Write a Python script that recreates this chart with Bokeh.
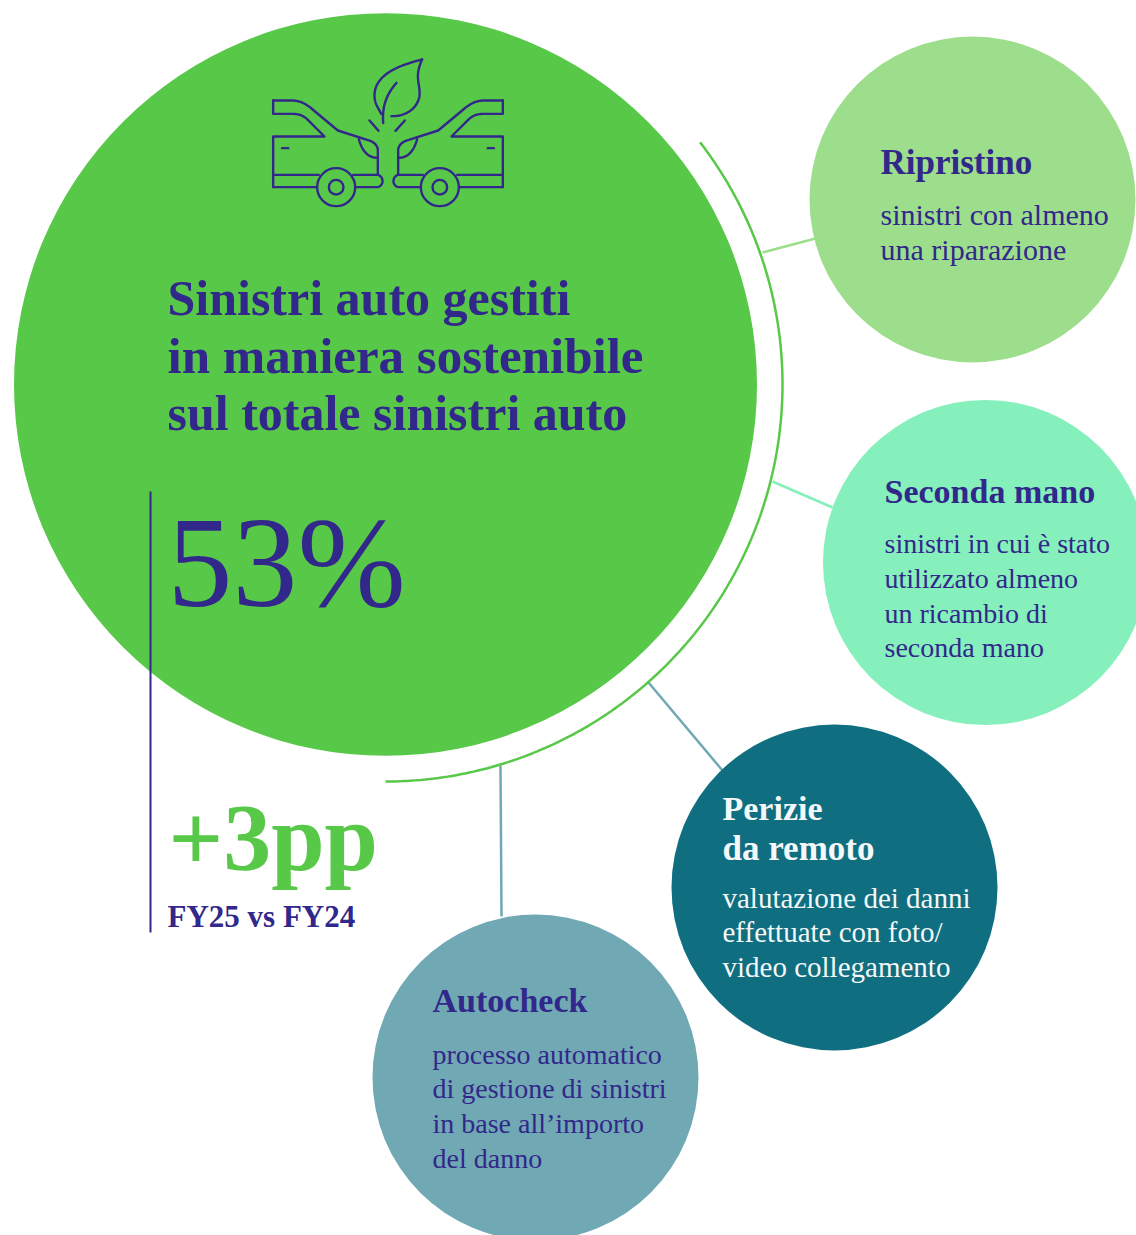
import numpy as np
from bokeh.plotting import figure
from bokeh.models import Range1d
from bokeh.core.properties import value
from bokeh.embed import file_html
from bokeh.resources import INLINE

title_lines = ["Sinistri auto gestiti", "in maniera sostenibile", "sul totale sinistri auto"]
kpi = "53%"
delta = "+3pp"
delta_note = "FY25 vs FY24"
names = ["Ripristino", "Seconda mano", "Perizie", "da remoto", "Autocheck"]
bodies = [
    ["sinistri con almeno", "una riparazione"],
    ["sinistri in cui è stato", "utilizzato almeno", "un ricambio di", "seconda mano"],
    ["valutazione dei danni", "effettuate con foto/", "video collegamento"],
    ["processo automatico", "di gestione di sinistri", "in base all’importo", "del danno"],
]

NAVY = "#32278A"; GREEN = "#58C848"; LG = "#9DDE8D"; MINT = "#85F0BC"; TEAL = "#0F6E80"; SLATE = "#70A9B3"; WHITE = "#F4F8F8"
FONT = value("Liberation Serif")

p = figure(width=1136, height=1235, x_range=Range1d(0, 1136), y_range=Range1d(1235, 0),
           output_backend="svg", toolbar_location=None, min_border=0)
p.axis.visible = False
p.grid.visible = False
p.outline_line_color = None
p.background_fill_color = "white"

# connectors
for xs, ys, c in [([762, 815], [252, 238], LG), ([772, 832], [481, 507], MINT),
                  ([648, 722], [682, 770], SLATE), ([500, 501], [765, 916], SLATE)]:
    p.line(xs, ys, line_color=c, line_width=2.5)

# circles
p.circle(x=[385], y=[384], radius=371.5, fill_color=GREEN, line_color=None)
for x, y, r, c in [(972, 199, 163, LG), (985, 562, 162.5, MINT), (834, 887, 163, TEAL), (535, 1077, 163, SLATE)]:
    p.circle(x=[x], y=[y], radius=r, fill_color=c, line_color=None)

# outer arc
t = np.radians(np.linspace(-37.6, 90, 200))
p.line(385 + 397 * np.cos(t), 384 + 397 * np.sin(t), line_color=GREEN, line_width=2.5)

# vertical rule
p.line([150, 150], [491, 932], line_color=NAVY, line_width=2)

# ---------- icon ----------
def cubic(a, b, c, d, n=24):
    s = np.linspace(0, 1, n)[:, None]
    a, b, c, d = map(np.array, (a, b, c, d))
    return (1-s)**3*a + 3*(1-s)**2*s*b + 3*(1-s)*s**2*c + s**3*d

def path(*segs):
    return np.vstack([np.atleast_2d(np.array(s, dtype=float)) for s in segs])

car_paths = [
    path([(68, 180), (125, 180)], cubic((125, 180), (150, 180), (170, 192), (190, 210)),
         [(262, 270), (350, 298)], cubic((350, 298), (370, 303), (382, 315), (382, 330)), [(382, 403)]),
    path([(68, 180), (68, 220), (125, 220)], cubic((125, 220), (145, 220), (160, 226), (172, 238)),
         [(222, 288), (68, 288), (68, 440), (200, 440)]),
    path([(68, 403), (205, 403)]),
    path([(308, 403), (378, 403)], cubic((378, 403), (402, 403), (402, 440), (378, 440)), [(312, 440)]),
    path([(95, 323), (113, 323)]),
    path(cubic((325, 295), (335, 335), (355, 352), (382, 352))),
]
leaf_paths = [
    path(cubic((515, 57), (440, 75), (372, 105), (372, 165)), cubic((372, 165), (372, 190), (385, 205), (392, 220))),
    path(cubic((515, 57), (490, 110), (510, 130), (507, 165)), cubic((507, 165), (503, 200), (470, 228), (423, 227))),
    path(cubic((398, 248), (395, 200), (405, 165), (438, 127))),
    path([(357, 240), (384, 271)]),
    path([(463, 240), (435, 271)]),
]
def sx(a): return 250 + a / 3
def sy(a): return 40 + a / 3
xs, ys = [], []
for q in car_paths:
    xs.append(sx(q[:, 0])); ys.append(sy(q[:, 1]))
    xs.append(sx(825 - q[:, 0])); ys.append(sy(q[:, 1]))
for q in leaf_paths:
    xs.append(sx(q[:, 0])); ys.append(sy(q[:, 1]))
p.multi_line(xs, ys, line_color=NAVY, line_width=2.4, line_join="round", line_cap="round")
for wx in (257, 825 - 257):
    p.circle(x=[sx(wx)], y=[sy(440)], radius=19, fill_color=GREEN, line_color=NAVY, line_width=2.4)
    p.circle(x=[sx(wx)], y=[sy(440)], radius=7.3, fill_color=GREEN, line_color=NAVY, line_width=2.4)

# ---------- text ----------
def put(x, y, s, size, color, bold=False):
    p.text(x=[x - 1], y=[y - 0.345 * size], text=[s], text_font=FONT, text_font_size=f"{size}px", text_color=color,
           text_font_style="bold" if bold else "normal", text_baseline="alphabetic", text_align="left")

for y, s, z in zip([315, 373, 430], title_lines, [50, 51, 50]):
    put(168, y, s, z, NAVY, True)
put(168, 606, kpi, 130, NAVY)
put(169, 870, delta, 96, GREEN, True)
put(168, 927, delta_note, 31, NAVY, True)

put(881, 174, names[0], 35, NAVY, True)
for y, s in zip([224, 259], bodies[0]):
    put(881, y, s, 30, NAVY)
put(885, 503, names[1], 34, NAVY, True)
for y, s in zip([553, 588, 623, 657], bodies[1]):
    put(885, y, s, 28, NAVY)
put(723, 820, names[2], 34, WHITE, True)
put(723, 860, names[3], 35, WHITE, True)
for y, s in zip([908, 942, 977], bodies[2]):
    put(723, y, s, 29, WHITE)
put(433, 1012, names[4], 34, NAVY, True)
for y, s in zip([1064, 1098, 1133, 1168], bodies[3]):
    put(433, y, s, 28, NAVY)

open("out.html", "w").write(file_html(p, INLINE))
